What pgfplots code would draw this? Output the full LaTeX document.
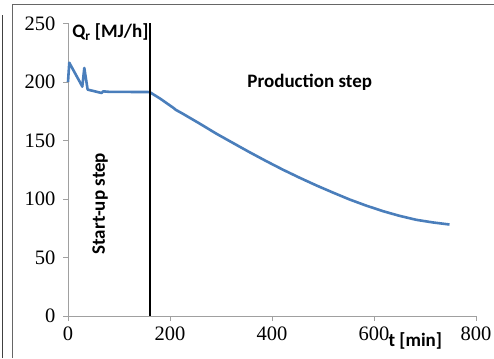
\documentclass[border=0pt]{standalone}
\usepackage{pgfplots}
\pgfplotsset{compat=1.18}
\usepackage{fontspec}
\setmainfont{Liberation Serif}
\newfontfamily\calib{Carlito}
\definecolor{exblue}{RGB}{74,126,187}
\definecolor{axgray}{RGB}{160,160,160}
\begin{document}
\begin{tikzpicture}
\useasboundingbox (0pt,0pt) rectangle (494pt,358pt);
\draw[black!60, line width=1pt] (12.5pt,0pt) -- (12.5pt,353.5pt) -- (494pt,353.5pt);
\draw[black!75, line width=0.9pt] (2.5pt,0pt) -- (2.5pt,343pt);
\begin{axis}[
  at={(68pt,42pt)}, anchor=south west,
  scale only axis, width=408pt, height=292.5pt,
  xmin=0, xmax=800, ymin=0, ymax=250,
  axis lines=left, axis line style={-, draw=axgray, line width=0.9pt},
  tick style={draw=axgray, line width=0.9pt},
  tick align=outside, major tick length=5pt,
  xtick={0,200,...,800}, ytick={0,50,...,250},
  /pgf/number format/assume math mode=true,
  tick label style={font=\fontsize{20.5}{22}\selectfont},
  xticklabel style={yshift=-2pt},
  yticklabel style={xshift=-4pt},
  clip=false,
]
\addplot[exblue, line width=2.6pt, line join=round] coordinates {
(0,200) (2.5,216.5) (27,197) (28,196) (32,212) (33,209) (38.5,193.5) (66,190.6) (69,192) (80,191.6) (160,191.4)
(180,186) (203,179) (207,177.8) (211,176.3) (225,172.9) (258,164.5) (291,155.8) (323,148) (356,140)
(389,132.3) (421.6,125) (454,118.2) (487,111.6) (520,105.4) (552,99.6) (585,94.3) (617.6,89.6) (650,85.6) (683,82.2) (715,80) (748,78.2)
};
\addplot[black, line width=2pt] coordinates {(160,0) (160,250)};
\node[font=\calib\bfseries\fontsize{19}{21}\selectfont, anchor=base west, inner sep=0pt] at (axis cs:8,238) {Q\textsubscript{r} [MJ/h]};
\node[font=\calib\bfseries\fontsize{19}{21}\selectfont] at (axis cs:474,200) {Production step};
\node[font=\calib\bfseries\fontsize{19}{21}\selectfont, rotate=90] at (axis cs:63,96) {Start-up step};
\node[font=\calib\bfseries\fontsize{19}{21}\selectfont] at (axis cs:681,-21.5) {t [min]};
\end{axis}
\end{tikzpicture}
\end{document}
